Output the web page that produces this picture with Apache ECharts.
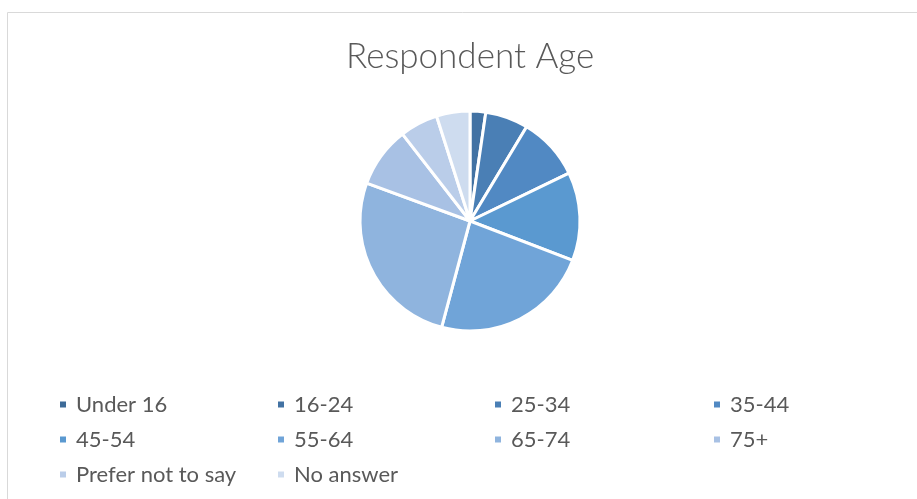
<!DOCTYPE html>
<html>
<head>
<meta charset="utf-8">
<style>html,body{margin:0;padding:0;background:#fff;}#c{width:917px;height:499px;}</style>
<script src="https://cdn.jsdelivr.net/npm/echarts@6/dist/echarts.min.js"></script>
</head>
<body>
<div id="c"></div>
<script>
const categories = ['Under 16','16-24','25-34','35-44','45-54','55-64','65-74','75+','Prefer not to say','No answer'];
const values = [0, 2.3, 6.3, 9.2, 13.0, 23.3, 26.4, 8.9, 5.6, 4.9];
const colors = ['#3d6b98','#4272a3','#4a7fb5','#5189c3','#5a99d0','#70a4d8','#8fb4de','#a8c1e4','#bacde9','#cedcef'];
const legendColumns = [
  ['Under 16','45-54','Prefer not to say'],
  ['16-24','55-64','No answer'],
  ['25-34','65-74'],
  ['35-44','75+']
];
const colX = [53, 271, 488, 707];

const chart = echarts.init(document.getElementById('c'));
const legends = legendColumns.map((col, i) => ({
  orient: 'vertical',
  left: colX[i],
  top: 387,
  itemWidth: 8,
  itemHeight: 8,
  icon: 'rect',
  itemGap: 10,
  data: col,
  selectedMode: false,
  textStyle: {fontFamily: 'Lato', fontSize: 22, color: '#595959', lineHeight: 25, padding: [0,0,0,4]}
}));
chart.setOption({
  animation: false,
  color: colors,
  title: {
    text: 'Respondent Age',
    left: 341,
    top: 34,
    textStyle: {fontFamily: 'Lato', fontWeight: 300, fontSize: 35, color: '#595959'}
  },
  graphic: [{
    type: 'rect', left: 5, top: 10, silent: true,
    shape: {width: 1000, height: 600},
    style: {fill: 'none', stroke: '#d9d9d9', lineWidth: 1}
  }],
  legend: legends,
  series: [{
    type: 'pie',
    center: [470, 221],
    radius: [0, 110],
    startAngle: 90,
    clockwise: true,
    label: {show: false},
    labelLine: {show: false},
    itemStyle: {borderColor: '#fff', borderWidth: 3},
    emphasis: {disabled: true},
    data: categories.map((c, i) => ({name: c, value: values[i]}))
  }]
});
</script>
</body>
</html>
